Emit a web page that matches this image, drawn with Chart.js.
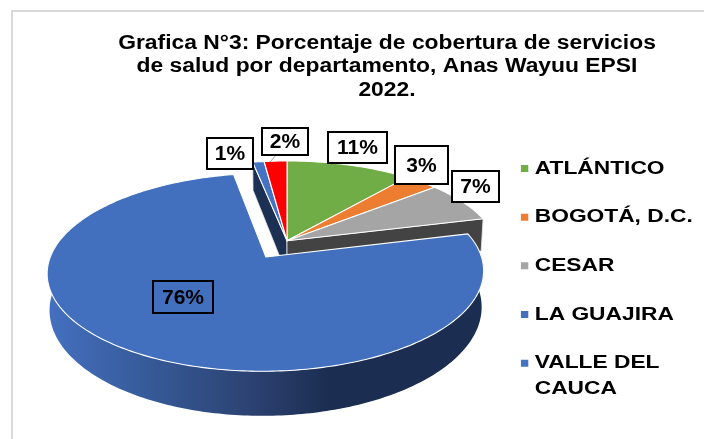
<!DOCTYPE html>
<html><head><meta charset="utf-8">
<script src="https://cdn.jsdelivr.net/npm/chart.js@4"></script>
<style>html,body{margin:0;padding:0;background:#fff}canvas{display:block}</style>
</head><body><canvas id="c" width="704" height="439"></canvas>
<script>
const categories = ['ATLÁNTICO','BOGOTÁ, D.C.','CESAR','LA GUAJIRA',['VALLE DEL','CAUCA'],'OTRO'];
const values = [11,3,7,76,1,2];
const titleLines = ['Grafica N°3: Porcentaje de cobertura de servicios','de salud por departamento, Anas Wayuu EPSI','2022.'];
const sliceColors = ['#70AD47','#ED7D31','#A5A5A5','#4270BF','#4472C4','#FF0000'];
const legendCount = 5;

// projection of the tilted disc (style only, angles come from the chart's arc elements)
const P = {cx:287,cy:240.7,A:210,B:91.7,k:0.15,depth:34,depthPow:1.4,explodeIdx:3,explode:0.205,nudge:0.012};
const labelBoxes = [[328,132,59,31],[395,146,53,38],[452,171,47,31],[153,281,60,32],[207,138,46,31],[262,128,46,27]];
const labelFills = ['#fff','#fff','#fff',null,'#fff','#fff'];

function proj(wx,wy,h){
  const d=1-P.k*wy, f=1/d;
  const x=P.cx+P.A*wx*f, y=P.cy+P.B*wy*f;
  if(!h) return [x,y];
  return [P.cx+(x-P.cx)*0.99, y+P.depth*Math.pow(f,P.depthPow)];
}
function ang(a){return a+Math.PI/2;} // clockwise from top
function pt(th,r,ox,oy,h){return proj(ox+r*Math.sin(th),oy-r*Math.cos(th),h);}
function path(ctx,pts){ctx.beginPath();pts.forEach((p,i)=>i?ctx.lineTo(p[0],p[1]):ctx.moveTo(p[0],p[1]));ctx.closePath();}
function arcPts(a0,a1,ox,oy,h){const n=Math.max(6,Math.ceil((a1-a0)*60));const r=[];for(let i=0;i<=n;i++){r.push(pt(a0+(a1-a0)*i/n,1,ox,oy,h));}return r;}
function stretch(box,ctx,ax,sx,markerShift){
  const d=box.draw.bind(box);
  box.draw=function(a){
    ctx.save();ctx.translate(ax,0);ctx.scale(sx,1);ctx.translate(-ax,0);
    const rc=ctx.rect;
    if(markerShift) ctx.rect=function(x,y,w,h){rc.call(ctx,x+markerShift,y,w,h);};
    d(a);
    if(markerShift) delete ctx.rect;
    ctx.restore();
  };
}

const pie3d = {
  id:'pie3d',
  beforeDraw(chart){
    const c=chart.ctx;
    c.save();c.fillStyle='#fff';c.fillRect(0,0,704,439);
    c.strokeStyle='#d9d9d9';c.lineWidth=2;c.beginPath();c.moveTo(12,439);c.lineTo(12,11);c.lineTo(704,11);c.stroke();c.restore();
  },
  afterLayout(chart){
    const t=chart.titleBlock; t.left=0; t.right=774; t.top=31.5; t.bottom=112;
    const l=chart.legend; l.left=485.8; l.right=704; l.top=129; l.bottom=439;
    if(!chart._stretched){chart._stretched=true;stretch(t,chart.ctx,387,1.143);stretch(l,chart.ctx,516,1.23,4);}
  },
  beforeDatasetDraw(chart,args){
    const c=chart.ctx, arcs=args.meta.data;
    const offs=i=>{if(i!==P.explodeIdx)return[0,0];const a=arcs[i];const m=ang((a.startAngle+a.endAngle)/2);return[P.explode*Math.sin(m)+P.nudge,-P.explode*Math.cos(m)];};
    c.save();c.lineJoin='round';
    // cut walls of the back slices
    const wall=(th,col)=>{const pts=[pt(0,0,0,0),pt(th,1,0,0),pt(th,1,0,0,true),pt(0,0,0,0,true)];path(c,pts);c.fillStyle=col;c.fill();c.strokeStyle='#e8e8e8';c.lineWidth=0.8;c.stroke();};
    wall(ang(arcs[4].startAngle),'#1c3054');
    wall(ang(arcs[2].endAngle),'#434343');
    const top=(i)=>{const a=arcs[i];const[ox,oy]=offs(i);const a0=ang(a.startAngle),a1=ang(a.endAngle);
      path(c,[proj(ox,oy)].concat(arcPts(a0,a1,ox,oy)));c.fillStyle=a.options.backgroundColor;c.fill();c.strokeStyle='#fff';c.lineWidth=1.1;c.stroke();};
    [0,1,2,4,5].forEach(top);
    // outer wall of the exploded slice
    const b=P.explodeIdx,a=arcs[b];const[ox,oy]=offs(b);
    const a0=ang(a.startAngle),a1=ang(a.endAngle);
    const front0=Math.max(a0,Math.PI/2-0.3),front1=Math.min(a1,3*Math.PI/2+0.3);
    const up=arcPts(front0,front1,ox,oy),dn=arcPts(front0,front1,ox,oy,true).reverse();
    const g=c.createLinearGradient(48,0,483,0);
    g.addColorStop(0,'#4470c0');g.addColorStop(0.234,'#365a98');g.addColorStop(0.464,'#2c4272');g.addColorStop(0.65,'#1b2d50');g.addColorStop(1,'#1b2d50');
    path(c,up.concat(dn));c.fillStyle=g;c.fill();
    top(b);
    c.restore();
    return false;
  },
  afterDatasetsDraw(chart){
    const c=chart.ctx;
    c.save();
    c.strokeStyle='#a6a6a6';c.lineWidth=1;c.beginPath();c.moveTo(276,155);c.lineTo(270,162);c.stroke();
    c.font='bold 21px "Liberation Sans"';c.textAlign='center';c.textBaseline='middle';
    values.forEach((v,i)=>{const[x,y,w,h]=labelBoxes[i];
      if(labelFills[i]){c.fillStyle=labelFills[i];c.fillRect(x,y,w,h);}
      c.strokeStyle='#000';c.lineWidth=2;c.strokeRect(x,y,w,h);
      c.fillStyle='#000';c.fillText(v+'%',x+w/2,y+h/2+1);});
    c.restore();
  }
};

new Chart(document.getElementById('c'),{
  type:'pie',
  data:{labels:categories,datasets:[{data:values,backgroundColor:sliceColors,borderWidth:0}]},
  options:{
    responsive:false,animation:false,events:[],
    layout:{padding:0},
    plugins:{
      tooltip:{enabled:false},
      title:{display:true,text:titleLines,color:'#000',font:{family:'"Liberation Sans"',size:20,weight:'bold',lineHeight:1.18},padding:0},
      legend:{position:'right',align:'start',labels:{boxWidth:6,boxHeight:7,padding:30.2,color:'#000',
        font:{family:'"Liberation Sans"',size:18.5,weight:'bold',lineHeight:1.4},
        filter:(item,data)=>item.index<legendCount}}
    }
  },
  plugins:[pie3d]
});
</script></body></html>
